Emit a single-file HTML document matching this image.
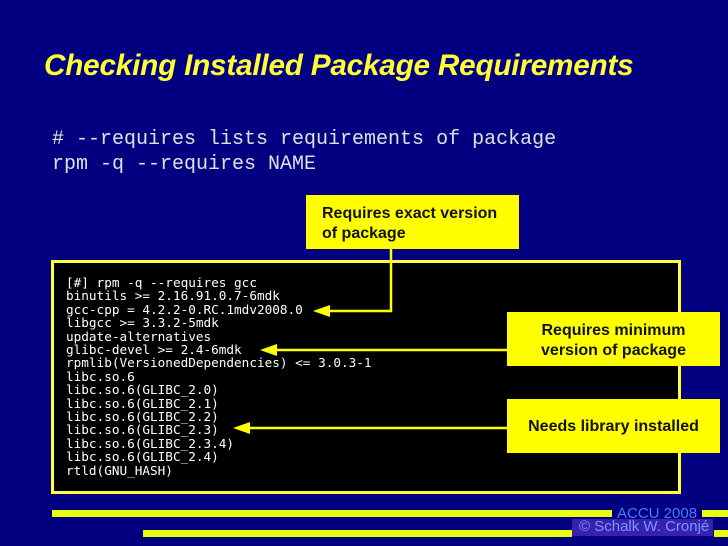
<!DOCTYPE html>
<html><head><meta charset="utf-8"><style>
body{margin:0;width:728px;height:546px;background:#020080;position:relative;overflow:hidden;font-family:"Liberation Sans",sans-serif}
div{position:absolute}
.t{left:44px;top:49px;color:#ffff33;font-weight:bold;font-style:italic;font-size:29.7px;white-space:nowrap;letter-spacing:-0.2px}
.c{left:52px;color:#e0e0e0;font-family:"Liberation Mono",monospace;font-size:20px;white-space:pre}
.box{left:51px;top:260px;width:624px;height:228px;background:#000;border:3px solid #ffff40}
.term{left:66px;top:276px;color:#fff;font-family:"DejaVu Sans Mono","Liberation Mono",monospace;font-size:12.7px;line-height:13.4px;white-space:pre}
.call{background:#ffff00;color:#111;font-weight:bold;font-size:16px;line-height:20px;white-space:nowrap}
.bar{background:#e8ff10}
</style></head><body>
<div class="t">Checking Installed Package Requirements</div>
<div class="c" style="top:128px"># --requires lists requirements of package</div>
<div class="c" style="top:153px">rpm -q --requires NAME</div>
<div class="box"></div>
<div class="term">[#] rpm -q --requires gcc
binutils &gt;= 2.16.91.0.7-6mdk
gcc-cpp = 4.2.2-0.RC.1mdv2008.0
libgcc &gt;= 3.3.2-5mdk
update-alternatives
glibc-devel &gt;= 2.4-6mdk
rpmlib(VersionedDependencies) &lt;= 3.0.3-1
libc.so.6
libc.so.6(GLIBC_2.0)
libc.so.6(GLIBC_2.1)
libc.so.6(GLIBC_2.2)
libc.so.6(GLIBC_2.3)
libc.so.6(GLIBC_2.3.4)
libc.so.6(GLIBC_2.4)
rtld(GNU_HASH)</div>
<svg style="position:absolute;left:0;top:0" width="728" height="546">
<g stroke="#ffff00" stroke-width="2.5" fill="none">
<polyline points="391,249 391,311 325,311"/>
<line x1="507" y1="350" x2="272" y2="350"/>
<line x1="507" y1="428" x2="245" y2="428"/>
</g>
<g fill="#ffff00">
<polygon points="313,311 330,305 330,317"/>
<polygon points="260,350 277,344 277,356"/>
<polygon points="233,428 250,422 250,434"/>
</g>
</svg>
<div class="call" style="left:306px;top:195px;height:54px;padding-left:16px;padding-top:9px;box-sizing:border-box;width:213px">Requires exact version<br>of package</div>
<div class="call" style="left:507px;top:312px;width:213px;height:54px;padding-top:9px;box-sizing:border-box;text-align:center">Requires minimum<br>version of package</div>
<div class="call" style="left:507px;top:399px;width:213px;height:54px;padding-top:18px;box-sizing:border-box;text-align:center">Needs library installed</div>
<div class="bar" style="left:52px;top:510px;width:560px;height:7px"></div>
<div class="bar" style="left:702px;top:510px;width:26px;height:7px"></div>
<div class="bar" style="left:143px;top:530px;width:429px;height:7px"></div>
<div class="bar" style="left:714px;top:530px;width:14px;height:7px"></div>
<div style="left:617px;top:505px;color:#4a7aff;font-size:15px">ACCU 2008</div>
<div style="left:572px;top:519px;width:141px;height:17px;background:#3a20b0"></div>
<div style="left:579px;top:518px;color:#6f9cff;font-size:15px;white-space:nowrap">© Schalk W. Cronjé</div>
</body></html>
